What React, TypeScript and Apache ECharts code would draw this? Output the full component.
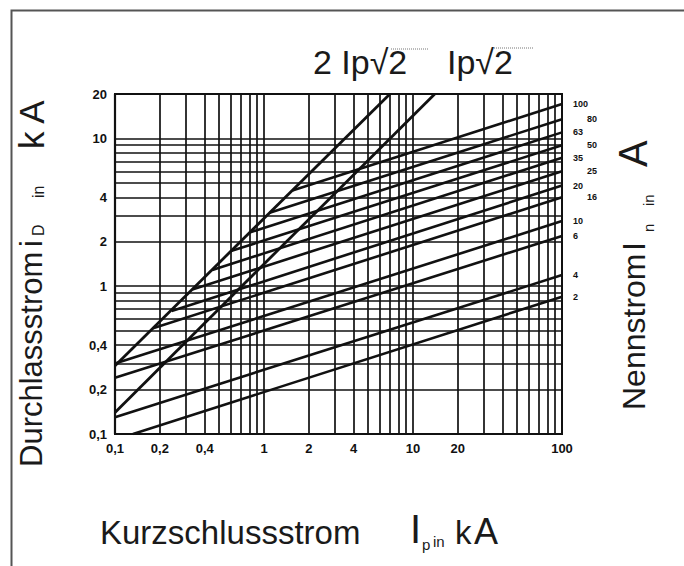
import React, { useEffect, useRef } from "react";
import * as echarts from "echarts";

// Axis ticks / labels
const xTickLabels = [0.1, 0.2, 0.4, 1, 2, 4, 10, 20, 100];
const yTickLabels = [0.1, 0.2, 0.4, 1, 2, 4, 10, 20];
const xGridLines = [0.1, 0.2, 0.3, 0.4, 0.5, 0.6, 0.7, 0.8, 0.9, 1, 2, 3, 4, 5, 6, 7, 8, 9, 10, 20, 30, 40, 50, 60, 70, 80, 90, 100];
const yGridLines = [0.1, 0.2, 0.3, 0.4, 0.5, 0.6, 0.7, 0.8, 0.9, 1, 2, 3, 4, 5, 6, 7, 8, 9, 10, 20];

// Fuse ratings (Nennstrom, A) and their cut-off lines (Ip kA -> iD kA)
const ratings = ["100", "80", "63", "50", "35", "25", "20", "16", "10", "6", "4", "2"];
const startIp = [1.55, 1.09, 0.81, 0.6, 0.45, 0.33, 0.24, 0.18, 0.1, 0.1, 0.1, 0.132];
const startId = [4.45, 3.14, 2.32, 1.73, 1.29, 0.95, 0.68, 0.52, 0.3, 0.24, 0.13, 0.1];
const endIp = [100, 100, 100, 100, 100, 100, 100, 100, 100, 100, 100, 100];
const endId = [17.1, 13.5, 11.0, 9.0, 7.4, 6.0, 4.8, 4.0, 2.76, 2.19, 1.19, 0.85];
const labelColumn = [0, 1, 0, 1, 0, 1, 0, 1, 0, 0, 0, 0];

// Peak lines 2·Ip·√2 and Ip·√2
const peak2Ip = [0.1, 7.0];
const peak2Id = [0.29, 20];
const peak1Ip = [0.1, 14.0];
const peak1Id = [0.14, 20];

const FONT = '"Liberation Sans", Arial, sans-serif';
const INK = "#111";

const fmt = (v: number) => String(Number(Number(v).toPrecision(3))).replace(".", ",");

function txt(text: string, x: number, y: number, size: number, rotation = 0, extra: any = {}) {
  return {
    type: "text",
    x,
    y,
    rotation,
    silent: true,
    z: 10,
    style: {
      text,
      fontSize: size,
      fontFamily: FONT,
      fill: "#1a1a1a",
      align: "left",
      textAlign: "left",
      verticalAlign: "middle",
      textVerticalAlign: "middle",
      ...extra,
    },
  };
}

function buildOption() {
  const fuseSeries = ratings.map((r, i) => ({
    type: "line",
    name: r + " A",
    data: [
      [startIp[i], startId[i]],
      [endIp[i], endId[i]],
    ],
    symbol: "none",
    showSymbol: false,
    silent: true,
    lineStyle: { color: INK, width: 2.6 },
    endLabel: {
      show: true,
      formatter: () => r,
      distance: 0,
      offset: [labelColumn[i] ? 25 : 11, 0],
      fontSize: 9,
      fontWeight: "bold",
      fontFamily: FONT,
      color: INK,
    },
  }));

  const peakSeries = [
    { ip: peak2Ip, id: peak2Id, name: "2 Ip√2" },
    { ip: peak1Ip, id: peak1Id, name: "Ip√2" },
  ].map((p) => ({
    type: "line",
    name: p.name,
    data: p.ip.map((x, k) => [x, p.id[k]]),
    symbol: "none",
    showSymbol: false,
    silent: true,
    lineStyle: { color: INK, width: 2.8 },
  }));

  const R = Math.PI / 2;
  const graphic = [
    {
      type: "rect",
      silent: true,
      z: 0,
      shape: { x: 11.5, y: 10.5, width: 700, height: 600 },
      style: { fill: "none", stroke: "#555", lineWidth: 2 },
    },
    // top annotations
    txt("2 Ip√2", 313, 62, 34),
    txt("Ip√2", 447, 62, 34),
    { type: "line", silent: true, z: 10, shape: { x1: 391, y1: 49, x2: 428, y2: 49 }, style: { stroke: "#777", lineWidth: 1, lineDash: [1, 1] } },
    { type: "line", silent: true, z: 10, shape: { x1: 494, y1: 48, x2: 533, y2: 48 }, style: { stroke: "#777", lineWidth: 1, lineDash: [1, 1] } },
    // left title
    txt("Durchlassstrom", 31, 467, 31, R),
    txt("i", 31, 247, 31, R),
    txt("D", 38, 236, 16, R),
    txt("in", 38, 198, 16, R),
    txt("k A", 31, 149, 35, R),
    // right title
    txt("Nennstrom", 634, 410, 32, R),
    txt("I", 634, 251, 32, R),
    txt("n", 648, 232, 15, R),
    txt("in", 648, 206, 15, R),
    txt("A", 633, 167, 40, R),
    // bottom title
    txt("Kurzschlussstrom", 100, 532, 33),
    txt("I", 410, 529, 40),
    txt("p", 422, 544, 15),
    txt("in", 433, 541, 15),
    txt("k", 455, 532, 33),
    txt("A", 474, 531, 36),
  ];

  return {
    animation: false,
    backgroundColor: "#fff",
    grid: {
      left: 115,
      top: 94,
      right: 122,
      bottom: 132,
      show: true,
      backgroundColor: "#fff",
      borderColor: INK,
      borderWidth: 2,
      outerBoundsMode: "none",
    },
    xAxis: {
      type: "log",
      logBase: 10,
      min: 0.1,
      max: 100,
      axisLine: { show: true, lineStyle: { color: INK, width: 2.2 } },
      axisTick: { show: false, customValues: xGridLines },
      splitLine: { show: true, lineStyle: { color: INK, width: 1.7 } },
      minorSplitLine: { show: false },
      axisLabel: {
        customValues: xTickLabels,
        formatter: (v: number) => fmt(v),
        fontSize: 13,
        fontWeight: "bold",
        fontFamily: FONT,
        color: INK,
        margin: 8,
      },
    },
    yAxis: {
      type: "log",
      logBase: 10,
      min: 0.1,
      max: 20,
      axisLine: { show: true, lineStyle: { color: INK, width: 2.2 } },
      axisTick: { show: false, customValues: yGridLines },
      splitLine: { show: true, lineStyle: { color: INK, width: 1.7 } },
      minorSplitLine: { show: false },
      axisLabel: {
        customValues: yTickLabels,
        formatter: (v: number) => fmt(v),
        fontSize: 13,
        fontWeight: "bold",
        fontFamily: FONT,
        color: INK,
        margin: 8,
      },
    },
    series: [...peakSeries, ...fuseSeries],
    graphic,
  };
}

export default function App() {
  const ref = useRef<HTMLDivElement>(null);
  useEffect(() => {
    if (!ref.current) return;
    const chart = echarts.init(ref.current, null, { renderer: "svg" });
    chart.setOption(buildOption() as any);
    return () => chart.dispose();
  }, []);
  return (
    <div
      ref={ref}
      style={{ position: "fixed", left: 0, top: 0, width: 684, height: 566, background: "#fff" }}
    />
  );
}
